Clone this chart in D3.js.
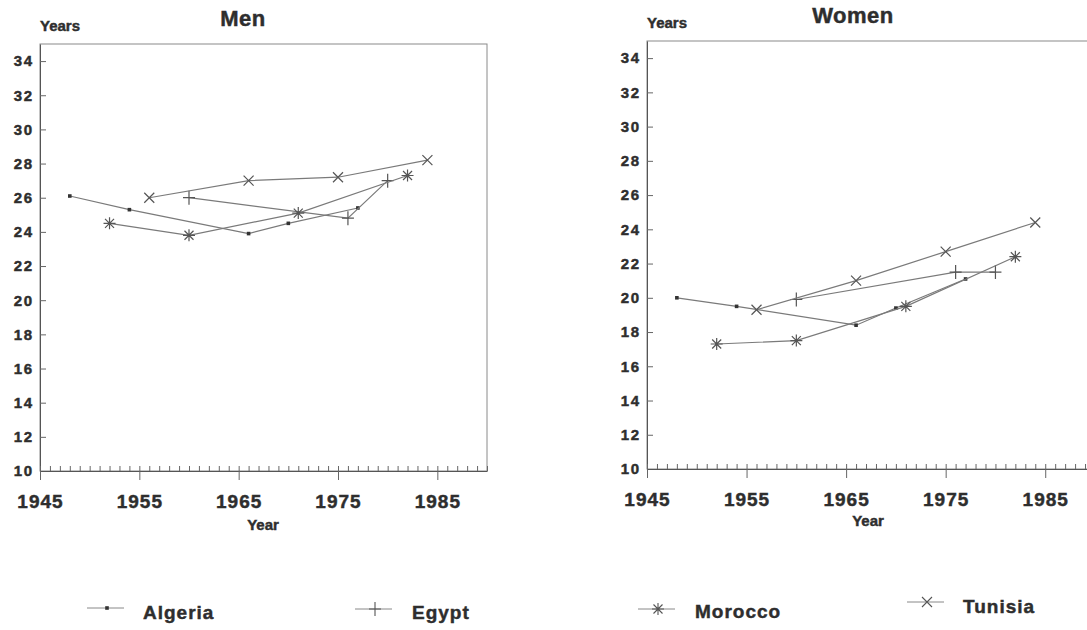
<!DOCTYPE html>
<html>
<head>
<meta charset="utf-8">
<script src="https://cdn.jsdelivr.net/npm/d3@7"></script>
<style>
  html, body { margin: 0; padding: 0; background: #fff; }
  svg { display: block; }
  text { font-family: "Liberation Sans", Arial, sans-serif; font-weight: bold; fill: #2e2e2e;
         stroke: #2e2e2e; stroke-width: 0.45px; }
</style>
</head>
<body>
<svg id="chart" width="1087" height="630"></svg>
<script>
// mean age at first marriage
const algeriaYears = [1948, 1954, 1966, 1970, 1977]
const algeriaMen = [26.1, 25.3, 23.9, 24.5, 25.4]
const algeriaWomen = [20.0, 19.5, 18.4, 19.4, 21.1]

const egyptYears = [1960, 1976, 1980]
const egyptMen = [26.0, 24.8, 27.0]
const egyptWomen = [19.9, 21.5, 21.5]

const moroccoYears = [1952, 1960, 1971, 1982]
const moroccoMen = [24.5, 23.8, 25.1, 27.3]
const moroccoWomen = [17.3, 17.5, 19.5, 22.4]

const tunisiaYears = [1956, 1966, 1975, 1984]
const tunisiaMen = [26.0, 27.0, 27.2, 28.2]
const tunisiaWomen = [19.3, 21.0, 22.7, 24.4]

const countries = ['Algeria', 'Egypt', 'Morocco', 'Tunisia']
const yTicks = [10, 12, 14, 16, 18, 20, 22, 24, 26, 28, 30, 32, 34]
const xLabels = [1945, 1955, 1965, 1975, 1985]
const xMinor = d3.range(1945, 1991)

const LINE = '#7a7a7a'

const zip = (ys, vs) => ys.map((y, i) => [y, vs[i]])

const seriesMen = [
  zip(algeriaYears, algeriaMen),
  zip(egyptYears, egyptMen),
  zip(moroccoYears, moroccoMen),
  zip(tunisiaYears, tunisiaMen)
]
const seriesWomen = [
  zip(algeriaYears, algeriaWomen),
  zip(egyptYears, egyptWomen),
  zip(moroccoYears, moroccoWomen),
  zip(tunisiaYears, tunisiaWomen)
]

// marker shapes, drawn around 0,0
const markers = [
  () => 'M-1.8,-1.8h3.6v3.6h-3.6z',
  () => 'M0,-7V7M-6,0H6',
  () => 'M0,-6V6M-6,0H6M-4.5,-4.5L4.5,4.5M-4.5,4.5L4.5,-4.5',
  () => 'M-5,-5L5,5M-5,5L5,-5'
]

const svg = d3.select('#chart')
svg.append('rect').attr('width', 1087).attr('height', 630).attr('fill', '#fff')

const drawPanel = (opts) => {
  const x = d3.scaleLinear().domain([1945, 1990]).range([opts.left, opts.right])
  const y = d3.scaleLinear().domain([10, 35]).range([opts.bottom, opts.top])
  const g = svg.append('g')

  // frame
  g.append('rect')
    .attr('x', opts.left).attr('y', opts.top)
    .attr('width', opts.right - opts.left).attr('height', opts.bottom - opts.top)
    .attr('fill', 'none').attr('stroke', '#8a8a8a').attr('stroke-width', 1)

  // y axis
  const yAxis = d3.axisLeft(y).tickValues(yTicks).tickSizeInner(-6).tickSizeOuter(0).tickPadding(8)
  const ya = g.append('g').attr('transform', `translate(${opts.left},0)`).call(yAxis)
  ya.select('.domain').attr('stroke', '#555')
  ya.selectAll('line').attr('stroke', '#666')
  ya.selectAll('text')
    .style('font-size', '15px').style('letter-spacing', '1.5px')
    .attr('fill', '#2e2e2e').attr('dx', '1.5')

  // x axis, minor ticks every year pointing up
  const xMinorAxis = d3.axisBottom(x).tickValues(xMinor).tickSizeInner(-5).tickSizeOuter(0).tickFormat('')
  const xm = g.append('g').attr('transform', `translate(0,${opts.bottom})`).call(xMinorAxis)
  xm.select('.domain').attr('stroke', '#555')
  xm.selectAll('line').attr('stroke', '#666')

  const xMajorAxis = d3.axisBottom(x).tickValues(xLabels).tickSizeInner(9).tickSizeOuter(0)
    .tickPadding(10).tickFormat(d3.format('d'))
  const xa = g.append('g').attr('transform', `translate(0,${opts.bottom})`).call(xMajorAxis)
  xa.select('.domain').remove()
  xa.selectAll('line').attr('stroke', '#666')
  xa.selectAll('text')
    .style('font-size', '19px').style('letter-spacing', '1px')
    .attr('fill', '#2e2e2e').attr('dy', '0.95em')

  // series
  const line = d3.line().x(d => x(d[0])).y(d => y(d[1]))
  opts.series.forEach((s, i) => {
    g.append('path')
      .attr('d', line(s))
      .attr('fill', 'none').attr('stroke', LINE).attr('stroke-width', 1.2)
    g.selectAll(null)
      .data(s)
      .join('path')
      .attr('transform', d => `translate(${x(d[0])},${y(d[1])})`)
      .attr('d', markers[i]())
      .attr('fill', i === 0 ? '#333' : 'none')
      .attr('stroke', i === 0 ? 'none' : '#555')
      .attr('stroke-width', 1.2)
  })

  // labels
  g.append('text').attr('x', opts.titleX).attr('y', opts.titleY)
    .attr('text-anchor', 'middle').style('font-size', '22px').style('letter-spacing', '0.5px')
    .text(opts.title)
  g.append('text').attr('x', opts.left).attr('y', opts.yLabelY)
    .style('font-size', '15px')
    .text('Years')
  g.append('text').attr('x', opts.xLabelX).attr('y', opts.xLabelY)
    .attr('text-anchor', 'middle').style('font-size', '15px')
    .text('Year')
}

drawPanel({
  title: 'Men', series: seriesMen,
  left: 40, right: 487, top: 44, bottom: 471,
  titleX: 243, titleY: 26, yLabelY: 31, xLabelX: 263, xLabelY: 530
})
drawPanel({
  title: 'Women', series: seriesWomen,
  left: 647, right: 1095, top: 41, bottom: 469,
  titleX: 853, titleY: 23, yLabelY: 28, xLabelX: 868, xLabelY: 526
})

// legend
const legendPos = [
  { x: 87, y: 608, tx: 143, ty: 619 },
  { x: 355, y: 609, tx: 412, ty: 619 },
  { x: 638, y: 609, tx: 695, ty: 618 },
  { x: 907, y: 602, tx: 963, ty: 613 }
]
const legend = svg.append('g')
countries.forEach((c, i) => {
  const p = legendPos[i]
  legend.append('line')
    .attr('x1', p.x).attr('x2', p.x + 37).attr('y1', p.y).attr('y2', p.y)
    .attr('stroke', '#888').attr('stroke-width', 1)
  legend.append('path')
    .attr('transform', `translate(${p.x + 20},${p.y})`)
    .attr('d', markers[i]())
    .attr('fill', i === 0 ? '#333' : 'none')
    .attr('stroke', i === 0 ? 'none' : '#555')
    .attr('stroke-width', 1.1)
  legend.append('text')
    .attr('x', p.tx).attr('y', p.ty)
    .style('font-size', '19px').style('letter-spacing', '1px')
    .text(c)
})
</script>
</body>
</html>
